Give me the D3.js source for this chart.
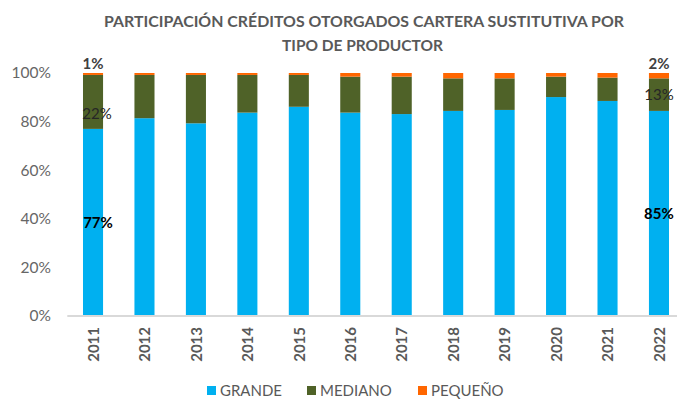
<!DOCTYPE html>
<html>
<head>
<meta charset="utf-8">
<script src="https://cdn.jsdelivr.net/npm/d3@7"></script>
<style>
  body { margin: 0; background: #fff; }
  text { font-family: Lato, "Open Sans", sans-serif; }
</style>
</head>
<body>
<div id="chart"></div>
<script>
// data
const years = ["2011","2012","2013","2014","2015","2016","2017","2018","2019","2020","2021","2022"];
const grande  = [77.0, 81.4, 79.3, 83.7, 86.1, 83.7, 83.1, 84.4, 84.8, 90.1, 88.5, 84.4];
const mediano = [22.2, 17.8, 19.9, 15.5, 13.1, 14.8, 15.4, 13.4, 13.0,  8.4,  9.6, 13.4];
const pequeno = [ 0.8,  0.8,  0.8,  0.8,  0.8,  1.5,  1.5,  2.2,  2.2,  1.5,  1.9,  2.2];
const seriesNames = ["GRANDE", "MEDIANO", "PEQUEÑO"];
const colors = ["#00b0f0", "#4f6228", "#ff6600"];
const yTicks = [0, 20, 40, 60, 80, 100];
// bars that carry a data label
const labelled = ["2011", "2022"];
const labelText = {
  GRANDE: {"2011": "77%", "2022": "85%"},
  MEDIANO: {"2011": "22%", "2022": "13%"},
  "PEQUEÑO": {"2011": "1%", "2022": "2%"}
};

const width = 677, height = 401;
const svg = d3.select("#chart").append("svg")
  .attr("width", width)
  .attr("height", height);

const x = d3.scalePoint()
  .domain(years)
  .range([67.3, 684.7])
  .padding(0.5);
const barW = x.step() * 0.39;

const y = d3.scaleLinear()
  .domain([0, 100])
  .range([316, 73]);

// title
svg.append("text")
  .attr("x", 364).attr("y", 27)
  .attr("text-anchor", "middle")
  .attr("font-size", "15.5px").attr("font-weight", "bold")
  .attr("fill", "#595959")
  .attr("textLength", 520).attr("lengthAdjust", "spacingAndGlyphs")
  .text("PARTICIPACIÓN CRÉDITOS OTORGADOS CARTERA SUSTITUTIVA POR");
svg.append("text")
  .attr("x", 362.5).attr("y", 51)
  .attr("text-anchor", "middle")
  .attr("font-size", "15.5px").attr("font-weight", "bold")
  .attr("fill", "#595959")
  .attr("textLength", 161).attr("lengthAdjust", "spacingAndGlyphs")
  .text("TIPO DE PRODUCTOR");

// y axis (labels only)
const yAxis = svg.append("g")
  .attr("transform", "translate(51,0)")
  .call(d3.axisLeft(y).tickValues(yTicks).tickFormat(d => d + "%").tickSize(0).tickPadding(0));
yAxis.select(".domain").remove();
yAxis.selectAll("text")
  .attr("font-size", "15.5px")
  .attr("fill", "#666666")
  .style("font-family", "Lato, sans-serif");

// stacked data
const rows = years.map((yr, i) => ({year: yr, GRANDE: grande[i], MEDIANO: mediano[i], "PEQUEÑO": pequeno[i]}));
const stack = d3.stack().keys(seriesNames)(rows);

svg.append("g").selectAll("g")
  .data(stack)
  .join("g")
  .attr("fill", (d, i) => colors[i])
  .selectAll("rect")
  .data(d => d)
  .join("rect")
  .attr("x", d => x(d.data.year) - barW / 2)
  .attr("width", barW)
  .attr("y", d => y(d[1]))
  .attr("height", d => y(d[0]) - y(d[1]));

// x axis
const xAxis = svg.append("g")
  .attr("transform", "translate(0,316)")
  .call(d3.axisBottom(x).tickSize(0).tickPadding(0));
xAxis.select(".domain")
  .attr("d", "M67.3,0H684.7")
  .attr("stroke", "#d9d9d9")
  .attr("stroke-width", 2);
xAxis.selectAll("text")
  .attr("transform", "rotate(-90)")
  .attr("text-anchor", "end")
  .attr("x", -11)
  .attr("y", 0)
  .attr("dy", "0.35em")
  .attr("font-size", "15px")
  .attr("font-weight", "bold")
  .attr("fill", "#595959")
  .style("font-family", "Lato, sans-serif");

// data labels
const labelStyle = {
  GRANDE: {weight: "bold", fill: "#000000", dx: 5},
  MEDIANO: {weight: "normal", fill: "#262626", dx: 4},
  "PEQUEÑO": {weight: "bold", fill: "#404040", dx: 0}
};
stack.forEach(layer => {
  const key = layer.key;
  const st = labelStyle[key];
  layer.filter(d => labelled.includes(d.data.year)).forEach(d => {
    let ly = key === "PEQUEÑO" ? y(d[1]) - 9 : y((d[0] + d[1]) / 2);
    if (key === "MEDIANO" && d.data.year === "2011") ly += 12;
    svg.append("text")
      .attr("x", x(d.data.year) + (d.data.year === "2011" ? st.dx : 0))
      .attr("y", ly)
      .attr("dy", "0.35em")
      .attr("text-anchor", "middle")
      .attr("font-size", "15px")
      .attr("font-weight", st.weight)
      .attr("fill", st.fill)
      .text(labelText[key][d.data.year]);
  });
});

// legend
const legendX = [207, 307, 418];
const legend = svg.append("g");
seriesNames.forEach((name, i) => {
  legend.append("rect")
    .attr("x", legendX[i]).attr("y", 386)
    .attr("width", 9).attr("height", 9)
    .attr("fill", colors[i]);
  legend.append("text")
    .attr("x", legendX[i] + 13).attr("y", 391)
    .attr("dy", "0.35em")
    .attr("font-size", "15px")
    .attr("fill", "#595959")
    .text(name);
});
</script>
</body>
</html>
